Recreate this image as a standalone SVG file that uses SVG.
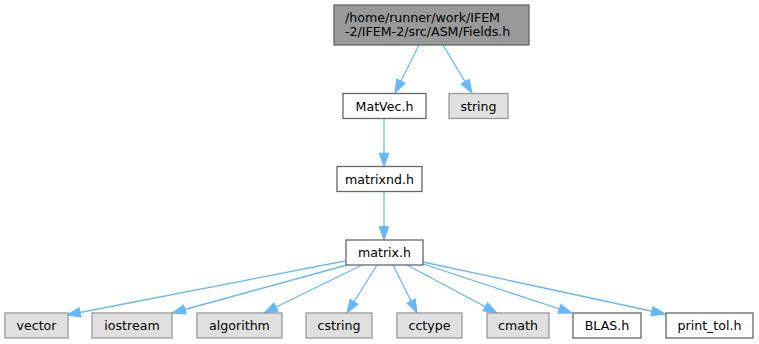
<svg xmlns="http://www.w3.org/2000/svg" width="759" height="344" viewBox="0 0 759 344">
<style>
text{font-family:"DejaVu Sans","Liberation Sans",sans-serif;font-size:12.6px;fill:#000}
.c{text-anchor:middle}
.root rect{fill:#999999;stroke:#666666;stroke-width:1.3}
.w rect{fill:#ffffff;stroke:#666666;stroke-width:1.3}
.g rect{fill:#e0e0e0;stroke:#999999;stroke-width:1.3}
#edges path{fill:none;stroke:#63b8ff;stroke-width:1.3;marker-end:url(#ah)}
</style>
<defs>
<marker id="ah" markerUnits="userSpaceOnUse" markerWidth="16" markerHeight="12" viewBox="0 -6 14 12" refX="13.3" refY="0" orient="auto">
<path d="M0,-4.7 L13.3,0 L0,4.7 z" fill="#63b8ff" stroke="#63b8ff" stroke-width="1"/>
</marker>
</defs>
<rect width="759" height="344" fill="#ffffff"/>
<g id="edges">
<path d="M419,45 L395,93"/>
<path d="M443,45 L472,93"/>
<path d="M384,118.5 L384,166.5"/>
<path d="M384,191.5 L384,240"/>
<path d="M345,261 L67,315"/>
<path d="M347,265 L172,313"/>
<path d="M362,265 L264,313"/>
<path d="M377,265 L347,313"/>
<path d="M393,265 L417,313"/>
<path d="M407,265 L497,313"/>
<path d="M420,263 L572,313"/>
<path d="M423,262 L665,314"/>
</g>
<g id="node-root" class="root"><rect x="334" y="5" width="195" height="40"/><text x="345" y="22">/home/runner/work/IFEM</text><text x="345" y="35.5">-2/IFEM-2/src/ASM/Fields.h</text></g>
<g id="node-matvec" class="w"><rect x="343" y="93.5" width="83" height="25"/><text class="c" x="384.5" y="110.5">MatVec.h</text></g>
<g id="node-string" class="g"><rect x="449" y="93.5" width="59" height="25"/><text class="c" x="478.5" y="110.5">string</text></g>
<g id="node-matrixnd" class="w"><rect x="337" y="166.5" width="85" height="25"/><text class="c" x="379.5" y="183.5">matrixnd.h</text></g>
<g id="node-matrix" class="w"><rect x="346" y="240" width="77" height="25"/><text class="c" x="384.5" y="257">matrix.h</text></g>
<g id="node-vector" class="g"><rect x="5" y="313" width="63" height="25"/><text class="c" x="36.5" y="330">vector</text></g>
<g id="node-iostream" class="g"><rect x="92" y="313" width="80" height="25"/><text class="c" x="132" y="330">iostream</text></g>
<g id="node-algorithm" class="g"><rect x="197" y="313" width="85" height="25"/><text class="c" x="239.5" y="330">algorithm</text></g>
<g id="node-cstring" class="g"><rect x="306" y="313" width="66" height="25"/><text class="c" x="339" y="330">cstring</text></g>
<g id="node-cctype" class="g"><rect x="397" y="313" width="65" height="25"/><text class="c" x="429.5" y="330">cctype</text></g>
<g id="node-cmath" class="g"><rect x="487" y="313" width="62" height="25"/><text class="c" x="518" y="330">cmath</text></g>
<g id="node-blas" class="w"><rect x="573" y="313" width="68" height="25"/><text class="c" x="607" y="330">BLAS.h</text></g>
<g id="node-printtol" class="w"><rect x="666" y="313" width="87" height="25"/><text class="c" x="709.5" y="330">print_tol.h</text></g>
</svg>
